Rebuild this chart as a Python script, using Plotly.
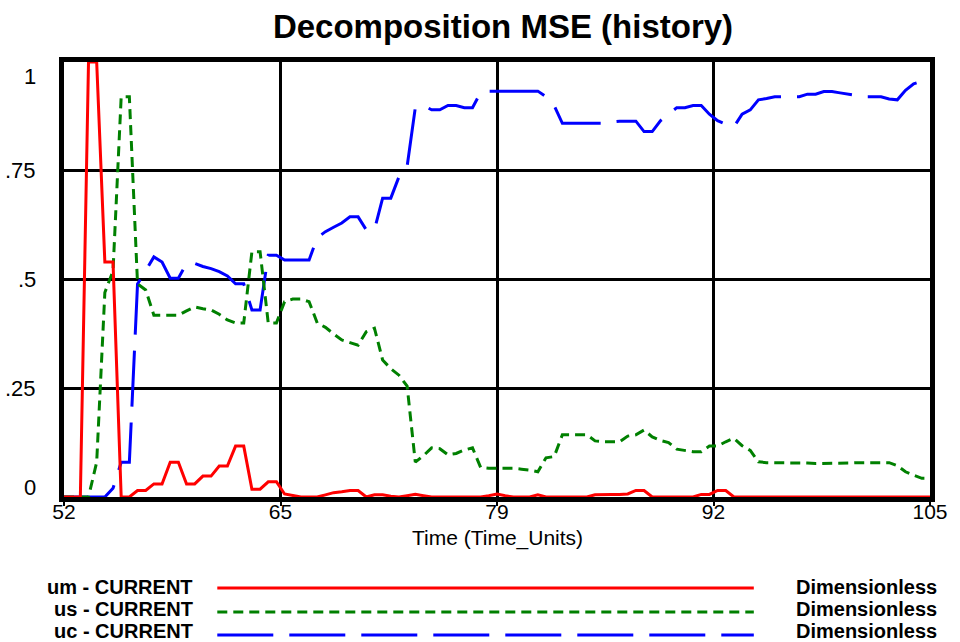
import numpy as np
import plotly.graph_objects as go

# ---------------- data ----------------
time = np.arange(52, 105.5, 0.5)

um_current = [
    0, 0, 0, 1.0, 1.0, 0.54, 0.54, 0, 0, 0.015,
    0.015, 0.03, 0.03, 0.08, 0.08, 0.03, 0.03, 0.048, 0.048, 0.071,
    0.071, 0.117, 0.117, 0.018, 0.018, 0.035, 0.035, 0.007, 0.003, 0,
    0, 0, 0.005, 0.01, 0.012, 0.015, 0.015, 0, 0.005, 0.005,
    0.002, 0, 0.003, 0.006, 0.003, 0, 0, 0, 0, 0,
    0, 0, 0.003, 0.007, 0.003, 0, 0, 0, 0.005, 0,
    0, 0, 0, 0, 0, 0.005, 0.006, 0.006, 0.006, 0.007,
    0.015, 0.015, 0, 0, 0, 0, 0, 0, 0.006, 0.006,
    0.015, 0.015, 0, 0, 0, 0, 0, 0, 0, 0,
    0, 0, 0, 0, 0, 0, 0, 0, 0, 0,
    0, 0, 0, 0, 0, 0, 0,
]

us_current = [
    0, 0, 0, 0, 0.08, 0.47, 0.52, 0.92, 0.92, 0.49,
    0.476, 0.418, 0.418, 0.418, 0.418, 0.428, 0.437, 0.433, 0.43, 0.42,
    0.407, 0.40, 0.40, 0.564, 0.564, 0.40, 0.40, 0.449, 0.455, 0.455,
    0.449, 0.40, 0.39, 0.375, 0.361, 0.355, 0.349, 0.38, 0.388, 0.315,
    0.295, 0.28, 0.255, 0.08, 0.095, 0.113, 0.111, 0.097, 0.10, 0.108,
    0.113, 0.068, 0.066, 0.066, 0.066, 0.066, 0.064, 0.062, 0.058, 0.09,
    0.093, 0.143, 0.143, 0.143, 0.143, 0.129, 0.127, 0.127, 0.127, 0.14,
    0.143, 0.154, 0.138, 0.13, 0.125, 0.11, 0.107, 0.104, 0.104, 0.117,
    0.117, 0.127, 0.135, 0.118, 0.107, 0.081, 0.079, 0.079, 0.079, 0.079,
    0.079, 0.078, 0.077, 0.077, 0.077, 0.077, 0.078, 0.079, 0.079, 0.079,
    0.079, 0.079, 0.072, 0.058, 0.05, 0.043, 0.043,
]

uc_current = [
    0, 0, 0, 0, 0, 0, 0.02, 0.08, 0.08, 0.49,
    0.52, 0.552, 0.54, 0.503, 0.503, 0.537, 0.537, 0.53, 0.525, 0.518,
    0.508, 0.49, 0.49, 0.43, 0.43, 0.556, 0.556, 0.545, 0.545, 0.545,
    0.545, 0.596, 0.61, 0.62, 0.63, 0.644, 0.644, 0.614, 0.614, 0.687,
    0.687, 0.736, 0.76, 0.895, 0.90, 0.89, 0.89, 0.90, 0.90, 0.895,
    0.895, 0.93, 0.933, 0.933, 0.933, 0.933, 0.933, 0.933, 0.933, 0.92,
    0.90, 0.859, 0.859, 0.859, 0.859, 0.859, 0.859, 0.862, 0.864, 0.864,
    0.864, 0.84, 0.84, 0.865, 0.88, 0.895, 0.895, 0.90, 0.90, 0.88,
    0.865, 0.857, 0.851, 0.88, 0.89, 0.913, 0.916, 0.92, 0.92, 0.92,
    0.92, 0.926, 0.926, 0.932, 0.932, 0.929, 0.926, 0.922, 0.92, 0.92,
    0.92, 0.915, 0.913, 0.935, 0.95, 0.956, 0.956,
]

x_tick_vals = [52, 65.25, 78.5, 91.75, 105]
x_tick_text = ["52", "65", "79", "92", "105"]
y_tick_vals = [0, 0.25, 0.5, 0.75, 1]
y_tick_text = ["0", ".25", ".5", ".75", "1"]
x_title = "Time (Time_Units)"

series_names = ["um - CURRENT", "us - CURRENT", "uc - CURRENT"]
series_units = ["Dimensionless", "Dimensionless", "Dimensionless"]
series_colors = ["#ff0000", "#008000", "#0000ff"]
series_dash = ["solid", "10px,6px", "56px,16px"]

# ---------------- figure ----------------
W, H = 960, 642
ML, MR, MT, MB = 64, 26, 62, 145
PW, PH = W - ML - MR, H - MT - MB
FONT = "Liberation Sans, Arial, sans-serif"


def xp(px):
    return (px - ML) / PW


def yp(py):
    return (H - MB - py) / PH


fig = go.Figure()
series_values = [um_current, us_current, uc_current]
for i in [2, 1, 0]:
    fig.add_trace(go.Scatter(
        x=time, y=series_values[i], mode="lines", name=series_names[i],
        line=dict(color=series_colors[i], width=3, dash=series_dash[i]),
        showlegend=False, hoverinfo="x+y+name",
    ))

annotations = []
# y tick labels (Vensim style: clamped inside the frame at the ends)
y_shift = {0: 10, 1: -14}
for v, t in zip(y_tick_vals, y_tick_text):
    annotations.append(dict(
        x=xp(38), y=v, xref="paper", yref="y", text=t, showarrow=False,
        xanchor="right", yanchor="middle", yshift=y_shift.get(v, 0),
        font=dict(family=FONT, size=22, color="black"),
    ))

# x axis title
annotations.append(dict(
    x=xp(500), y=yp(538), xref="paper", yref="paper", text=x_title,
    showarrow=False, xanchor="center", yanchor="middle",
    font=dict(family=FONT, size=21, color="black"),
))

# legend block at the bottom
row_text_y = [587, 609, 631]
row_line_y = [588, 612, 635]
shapes = []
for i in range(3):
    annotations.append(dict(
        x=xp(196), y=yp(row_text_y[i]), xref="paper", yref="paper",
        text="<b>%s</b>" % series_names[i], showarrow=False,
        xanchor="right", yanchor="middle",
        font=dict(family=FONT, size=20, color="black"),
    ))
    annotations.append(dict(
        x=xp(797), y=yp(row_text_y[i]), xref="paper", yref="paper",
        text="<b>%s</b>" % series_units[i], showarrow=False,
        xanchor="left", yanchor="middle",
        font=dict(family=FONT, size=20, color="black"),
    ))
    shapes.append(dict(
        type="line", xref="paper", yref="paper",
        x0=xp(218), x1=xp(757), y0=yp(row_line_y[i]), y1=yp(row_line_y[i]),
        line=dict(color=series_colors[i], width=3, dash=series_dash[i]),
    ))

fig.update_layout(
    width=W, height=H,
    margin=dict(l=ML, r=MR, t=MT, b=MB, pad=0),
    paper_bgcolor="white", plot_bgcolor="white",
    showlegend=False,
    title=dict(
        text="<b>Decomposition MSE (history)</b>",
        x=503 / W, xanchor="center", xref="container",
        y=1 - 26 / H, yanchor="middle", yref="container",
        font=dict(family=FONT, size=33, color="black"),
    ),
    xaxis=dict(
        range=[52, 105], tickvals=x_tick_vals, ticktext=x_tick_text,
        showgrid=True, gridcolor="black", gridwidth=2.5,
        showline=True, linecolor="black", linewidth=5, mirror=True,
        ticks="outside", ticklen=4, tickwidth=2, tickcolor="black",
        ticklabelstandoff=-12,
        tickfont=dict(family=FONT, size=21, color="black"),
        zeroline=False, layer="below traces", fixedrange=True,
    ),
    yaxis=dict(
        range=[0, 1], tickvals=y_tick_vals, showticklabels=False,
        showgrid=True, gridcolor="black", gridwidth=2.5,
        showline=True, linecolor="black", linewidth=5, mirror=True,
        ticks="", zeroline=False, layer="below traces", fixedrange=True,
    ),
    yaxis2=dict(
        range=[0, 1], tickvals=y_tick_vals, showticklabels=False,
        overlaying="y", side="right", anchor="x", showgrid=False,
        ticks="outside", ticklen=5, tickwidth=2, tickcolor="black",
        zeroline=False, showline=False, fixedrange=True,
    ),
    annotations=annotations,
    shapes=shapes,
)

fig.write_html("out.html", config={"displayModeBar": False},
               post_script="document.body.style.margin='0';")
